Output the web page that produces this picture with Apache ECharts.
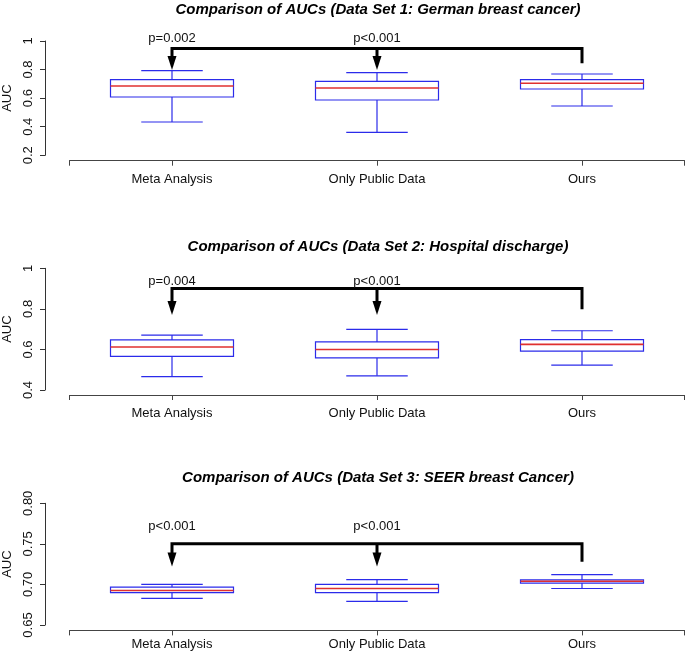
<!DOCTYPE html>
<html>
<head>
<meta charset="utf-8">
<script src="https://cdn.jsdelivr.net/npm/echarts@6.0.0/dist/echarts.min.js"></script>
<style>
  html, body { margin: 0; padding: 0; background: #fff; }
  #main { width: 685px; height: 653px; }
</style>
</head>
<body>
<div id="main"></div>
<script>
var categories = ['Meta Analysis', 'Only Public Data', 'Ours'];

var titles = [
  'Comparison of AUCs (Data Set 1: German breast cancer)',
  'Comparison of AUCs (Data Set 2: Hospital discharge)',
  'Comparison of AUCs (Data Set 3: SEER breast Cancer)'
];

// [low whisker, Q1, median, Q3, high whisker] per category
var boxes1 = [
  [0.433, 0.608, 0.685, 0.729, 0.792],
  [0.361, 0.587, 0.671, 0.718, 0.778],
  [0.545, 0.664, 0.704, 0.729, 0.769]
];
var boxes2 = [
  [0.466, 0.566, 0.612, 0.647, 0.671],
  [0.470, 0.558, 0.600, 0.637, 0.699],
  [0.523, 0.592, 0.625, 0.648, 0.692]
];
var boxes3 = [
  [0.6828, 0.6900, 0.6926, 0.6968, 0.7000],
  [0.6790, 0.6898, 0.6950, 0.7000, 0.7060],
  [0.6950, 0.7017, 0.7040, 0.7056, 0.7120]
];

// bracket level, arrow tip level, end of the "Ours" leg, p-label level
var bracket1 = [0.948, 0.797, 0.844, 1.019];
var bracket2 = [0.901, 0.770, 0.798, 0.934];
var bracket3 = [0.750, 0.722, 0.728, 0.771];

var pText1 = ['p=0.002', 'p<0.001'];
var pText2 = ['p=0.004', 'p<0.001'];
var pText3 = ['p<0.001', 'p<0.001'];

var yMin = [0.2, 0.4, 0.65];
var yMax = [1.0, 1.0, 0.80];
var yStep = [0.2, 0.2, 0.05];

var FONT = 'Liberation Sans, Arial, Helvetica, sans-serif';
var BLUE = '#2b2bea';
var RED = '#e0302f';

var chart = echarts.init(document.getElementById('main'));

var grids = [
  { left: 69.5, right: 0.5, top: 41, height: 114.3, outerBoundsMode: 'none', containLabel: false },
  { left: 69.5, right: 0.5, top: 268.3, height: 121.7, outerBoundsMode: 'none', containLabel: false },
  { left: 69.5, right: 0.5, top: 503.3, height: 121.7, outerBoundsMode: 'none', containLabel: false }
];
var titleTops = [-3, 234, 465];
var xOffsets = [5.4, 5, 5.4];
var xLabelMargins = [12, 12, 8];

function renderBox(params, api) {
  var x = api.value(0);
  var band = api.size([1, 0])[0];
  var hw = band * 0.3;
  var cw = band * 0.15;
  var cx = api.coord([x, 0])[0];
  var yLo = api.coord([x, api.value(1)])[1];
  var yQ1 = api.coord([x, api.value(2)])[1];
  var yMd = api.coord([x, api.value(3)])[1];
  var yQ3 = api.coord([x, api.value(4)])[1];
  var yHi = api.coord([x, api.value(5)])[1];
  var ls = { stroke: BLUE, lineWidth: 1.2, fill: null };
  return {
    type: 'group',
    children: [
      { type: 'line', shape: { x1: cx, y1: yHi, x2: cx, y2: yQ3 }, style: ls },
      { type: 'line', shape: { x1: cx, y1: yQ1, x2: cx, y2: yLo }, style: ls },
      { type: 'line', shape: { x1: cx - cw, y1: yHi, x2: cx + cw, y2: yHi }, style: ls },
      { type: 'line', shape: { x1: cx - cw, y1: yLo, x2: cx + cw, y2: yLo }, style: ls },
      { type: 'rect', shape: { x: cx - hw, y: yQ3, width: hw * 2, height: yQ1 - yQ3 }, style: { stroke: BLUE, lineWidth: 1.2, fill: '#fff' } },
      { type: 'line', shape: { x1: cx - hw, y1: yMd, x2: cx + hw, y2: yMd }, style: { stroke: RED, lineWidth: 1.6 } }
    ]
  };
}

function makeBracketRender(pText) {
  return function (params, api) {
    var yB = api.coord([1, api.value(0)])[1];
    var yTip = api.coord([1, api.value(1)])[1];
    var yEnd = api.coord([1, api.value(2)])[1];
    var yP = api.coord([1, api.value(3)])[1];
    var x1 = api.coord([1, 0])[0];
    var x2 = api.coord([2, 0])[0];
    var x3 = api.coord([3, 0])[0];
    var ah = 14, aw = 4.5;
    var st = { stroke: '#000', lineWidth: 3, fill: null, lineJoin: 'miter', lineCap: 'butt' };
    var kids = [
      { type: 'polyline', shape: { points: [[x1, yTip - ah + 1], [x1, yB], [x3, yB], [x3, yEnd]] }, style: st },
      { type: 'line', shape: { x1: x2, y1: yB, x2: x2, y2: yTip - ah + 1 }, style: st }
    ];
    [x1, x2].forEach(function (ax, i) {
      kids.push({ type: 'polygon', shape: { points: [[ax - aw, yTip - ah], [ax + aw, yTip - ah], [ax, yTip]] }, style: { fill: '#000' } });
      kids.push({
        type: 'text',
        style: { text: pText[i], x: ax, y: yP, align: 'center', verticalAlign: 'middle', font: '13px ' + FONT, fill: '#111' }
      });
    });
    return { type: 'group', children: kids };
  };
}

var allBoxes = [boxes1, boxes2, boxes3];
var allBrackets = [bracket1, bracket2, bracket3];
var allP = [pText1, pText2, pText3];

var option = {
  animation: false,
  backgroundColor: '#fff',
  title: titles.map(function (t, i) {
    return {
      text: t, left: 373, top: titleTops[i], textAlign: 'center',
      textStyle: { fontFamily: FONT, fontSize: 15, fontWeight: 'bold', fontStyle: 'italic', color: '#000' }
    };
  }),
  grid: grids,
  xAxis: grids.map(function (g, i) {
    return {
      type: 'value', gridIndex: i, min: 0.5, max: 3.5, offset: xOffsets[i],
      splitLine: { show: false },
      axisLine: { show: true, lineStyle: { color: '#444', width: 1 } },
      axisTick: { show: true, length: 5, customValues: [0.5, 1, 2, 3, 3.5], lineStyle: { color: '#444' } },
      axisLabel: {
        customValues: [1, 2, 3], margin: xLabelMargins[i], fontFamily: FONT, fontSize: 13, color: '#111',
        formatter: function (v) { return categories[Math.round(v) - 1]; }
      }
    };
  }),
  yAxis: grids.map(function (g, i) {
    return {
      type: 'value', gridIndex: i, min: yMin[i], max: yMax[i], interval: yStep[i], offset: 24.5,
      name: 'AUC', nameLocation: 'middle', nameGap: 29,
      nameTextStyle: { fontFamily: FONT, fontSize: 13, color: '#111' },
      splitLine: { show: false },
      axisLine: { show: true, lineStyle: { color: '#333', width: 1 } },
      axisTick: { show: true, length: 5, lineStyle: { color: '#333' } },
      axisLabel: {
        rotate: 90, margin: 10, fontFamily: FONT, fontSize: 13, color: '#111',
        formatter: function (v) {
          if (i === 2) return v.toFixed(2);
          return String(Math.round(v * 10) / 10);
        }
      }
    };
  }),
  series: []
};

allBoxes.forEach(function (bx, i) {
  option.series.push({
    type: 'custom', xAxisIndex: i, yAxisIndex: i, clip: false,
    renderItem: renderBox,
    data: bx.map(function (b, k) { return [k + 1].concat(b); })
  });
  option.series.push({
    type: 'custom', xAxisIndex: i, yAxisIndex: i, clip: false,
    renderItem: makeBracketRender(allP[i]),
    data: [allBrackets[i]]
  });
});

chart.setOption(option);
</script>
</body>
</html>
